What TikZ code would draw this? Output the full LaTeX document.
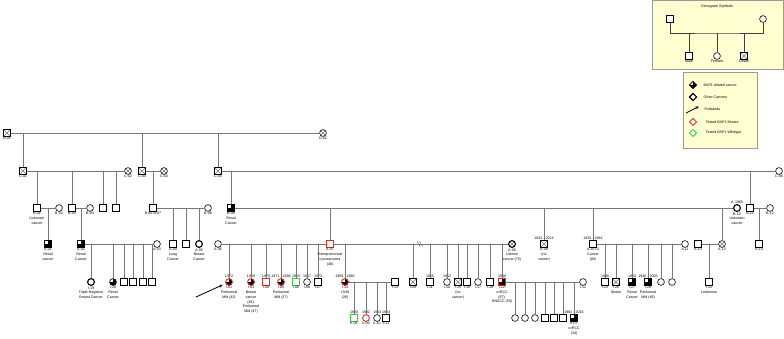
\documentclass[tikz,border=0pt]{standalone}
\usepackage{fontspec}
\setmainfont{Liberation Sans}
\usetikzlibrary{arrows.meta, shapes.geometric}
\definecolor{mutred}{HTML}{D9302C}
\definecolor{wildgreen}{HTML}{3CC83C}
\definecolor{linegray}{HTML}{777777}
\definecolor{legfill}{HTML}{FFFFD2}
\definecolor{legdraw}{HTML}{9A9A9A}
\newcommand\pedfont{\fontsize{3.6}{4.7}\selectfont}

\begin{document}
\begin{tikzpicture}[
			x=1pt, y=-1pt,
			male/.style={rectangle, draw, fill=white, minimum size=6.5pt, inner sep=0pt, line width=0.6pt},
			female/.style={circle, draw, fill=white, minimum size=6.8pt, inner sep=0pt, line width=0.6pt},
			gem/.style={diamond, draw, fill=white, minimum size=7.5pt, inner sep=0pt, line width=0.6pt},
			dead/.style={path picture={\draw[black!55, line width=0.4pt] (path picture bounding box.south west) -- (path picture bounding box.north east)
				(path picture bounding box.north west) -- (path picture bounding box.south east);}},
			bap/.style={fill=black, path picture={\fill[white] (path picture bounding box.north west) rectangle (path picture bounding box.center);}},
			othc/.style={line width=1.1pt},
			mut/.style={draw=mutred, line width=0.9pt},
			wild/.style={draw=wildgreen, line width=0.9pt},
			every label/.style={font=\pedfont, align=center, inner sep=0.4pt, text=black},
			rel/.style={draw=linegray, line width=0.8pt},
			legbox/.style={draw=legdraw, fill=legfill, line width=0.6pt, inner sep=0pt},
			legline/.style={draw=black!75, line width=0.7pt},
			legtxt/.style={font=\pedfont, anchor=west, inner sep=0.5pt},
			proband/.style={-{Stealth[length=3.5pt, width=3pt]}, line width=0.8pt, shorten >=3pt}
		]
			\useasboundingbox (0,0) rectangle (784,339);

			\node[legbox, minimum width=131pt, minimum height=69pt] (gbox) at (717.5,35) {};
			\node[font=\pedfont] (gtitle) at (717,7) {Genogram Symbols};
			\node[male] (Lm) at (670,19) {};
			\node[female] (Lf) at (763,19) {};
			\node[male, label=below:Male] (Lc1) at (689,56) {};
			\node[female, label=below:Female] (Lc2) at (717,56) {};
			\node[male, dead, label=below:Death] (Lc3) at (744,56) {};
			\coordinate (gbar) at (717,33);
			\draw[legline] (Lm) |- (gbar) -| (Lf);
			\draw[legline] (gbar -| Lc1) -- (Lc1) (gbar) -- (Lc2) (gbar -| Lc3) -- (Lc3);

			\node[legbox, minimum width=74pt, minimum height=76pt] (kbox) at (720,110) {};
			\node[gem, bap] (k1) at (693,85) {};
			\node[gem, othc] (k2) at (693,97) {};
			\node[gem, mut] (k4) at (693,122) {};
			\node[gem, wild] (k5) at (693,133) {};
			\node[legtxt] (t1) at (703,85) {BAP1 related cancer};
			\node[legtxt] (t2) at (703,97) {Other Cancers};
			\node[legtxt] (t3) at (704,109) {Probands};
			\node[legtxt] (t4) at (705,122) {Tested BAP1 Mutant};
			\node[legtxt] (t5) at (705,133) {Tested BAP1 Wildtype};
			\coordinate (ka) at (686,113);
			\coordinate (kb) at (699,106.5);
			\draw[proband, shorten >=0pt] (ka) -- (kb);

			\node[male, dead, label=below:D-01] (D01) at (7,133) {};
			\node[female, dead, label=below:D-02] (D02) at (323,133) {};

			\node[male, dead, label=below:C-01] (C01) at (23,171) {};
			\node[female, dead, label=below:C-02] (C02) at (128,171) {};
			\node[male, dead, label=below:C-03] (C03) at (142,171) {};
			\node[female, dead, label=below:C-04] (C04) at (164,171) {};
			\node[male, dead, label=below:C-05] (C05) at (218,171) {};
			\node[female, label=below:C-06] (C06) at (779,171) {};

			\node[male, othc, label=below:B-01\\Unknown\\cancer] (B01) at (37,208) {};
			\node[female, label=below:B-02] (B02) at (59,208) {};
			\node[male, label=below:B-03] (B03) at (72,208) {};
			\node[female, label=below:B-04] (B04) at (90,208) {};
			\node[male] (Bs1) at (103,208) {};
			\node[male] (Bs2) at (116,208) {};
			\node[male, label=below:B-05-B-07] (B05) at (153,208) {};
			\node[female, label=below:B-08] (B08) at (208,208) {};
			\node[male, bap, label=below:B-09\\Renal\\Cancer] (B09) at (231,208) {};
			\node[female, othc, label=above:d. 1965, label=below:B-10\\Unknown\\cancer] (B10) at (737,208) {};
			\node[male, label=below:B-11] (B11) at (750,208) {};
			\node[female, label=below:B-12] (B12) at (770,208) {};

			\node[male, bap, label=below:A-01\\Renal\\cancer] (A01) at (48,244) {};
			\node[male, bap, label=below:A-02\\Renal\\Cancer] (A02) at (81,244) {};
			\node[female, label=below:A-03] (A03) at (157,244) {};
			\node[male, othc, label=below:A-04\\Lung\\Cancer] (A04) at (173,244) {};
			\node[male] (As1) at (186,244) {};
			\node[female, othc, label=below:A-05\\Breast\\Cancer] (A05) at (199,244) {};
			\node[female, label=below:A-06] (A06) at (218,244) {};
			\node[male, mut, othc, label={below:{A-07\\Retroperitoneal\\Liposarcoma\\(46)}}] (A07) at (330,244) {};
			\node[female, dead, othc, label={below:{A-08\\Uterine\\cancer (75)}}] (A08) at (512,244) {};
			\node[male, dead, label=above:1932 - 2014, label={below:{A-09\\(no\\cancer)}}] (A09) at (544,244) {};
			\node[male, othc, label=above:1920 - 1982, label={below:{A-10 GI\\Cancer\\(85)}}] (A10) at (593,244) {};
			\node[female, label=below:A-11] (A11) at (685,244) {};
			\node[male, label=below:A-13] (A13) at (698,244) {};
			\node[female, dead, label=below:A-12] (A12) at (722,244) {};
			\node[male, label=below:A-14] (A14) at (759,244) {};

			\node[female, othc, label=below:I-19\\Triple-Negative\\Breast Cancer] (I19) at (91,282) {};
			\node[female, bap, label=below:I-20\\Renal\\Cancer] (I20) at (113,282) {};
			\node[male] (Is1) at (124,282) {};
			\node[male] (Is2) at (133,282) {};
			\node[male] (Is3) at (143,282) {};
			\node[male] (Is4) at (152,282) {};
			\node[female, mut, bap, label=above:1972, label={below:{I-01\\Peritoneal\\MM (43)}}] (I01) at (229,282) {};
			\node[female, mut, bap, label=above:1969, label={below:{I-03\\Breast\\cancer\\(46),\\Peritoneal\\MM (47)}}] (I03) at (251,282) {};
			\node[male, mut, label=above:1970, label=below:I-04] (I04) at (266,282) {};
			\node[female, mut, bap, label=above:1971 - 1998, label={below:{I-05\\Peritoneal\\MM (27)}}] (I05) at (281,282) {};
			\node[male, wild, label=above:1965, label=below:I-06] (I06) at (296,282) {};
			\node[female, label=above:1967, label=below:I-08] (I08) at (307,282) {};
			\node[male, label=above:1973, label=below:I-07] (I07) at (318,282) {};
			\node[female, mut, bap, label=above:1959 - 1985, label={below:{I-14\\UVM\\(26)}}] (I14) at (345,282) {};
			\node[male, label=below:I-13] (I13) at (395,282) {};
			\node[male, dead, label=below:I-09] (I09) at (413,282) {};
			\node[male, label=above:1955, label=below:I-11] (I11) at (430,282) {};
			\node[female, label=above:1952, label=below:I-10] (I10) at (447,282) {};
			\node[male, dead, label={below:{I-15\\(no\\cancer)}}] (I15) at (458,282) {};
			\node[male, label=below:I-16] (I16) at (467,282) {};
			\node[female, label=below:I-17] (I17) at (478,282) {};
			\node[male, label=below:I-18] (I18) at (490,282) {};
			\node[male, mut, bap, label=above:1946, label={below:{I-22\\ccRCC\\(67),\\HNSCC (50)}}] (I22) at (502,282) {};
			\node[female, label=below:I-12] (I12) at (583,282) {};
			\node[male, label=above:1946, label=below:I-25] (I25) at (605,282) {};
			\node[male, dead, label=below:I-26\\Stroke] (I26) at (616,282) {};
			\node[male, bap, label=above:1950, label=below:I-27\\Renal\\Cancer] (I27) at (632,282) {};
			\node[male, bap, label=above:1940 - 2005, label={below:{I-28\\Peritoneal\\MM (46)}}] (I28) at (648,282) {};
			\node[female] (Ic1) at (661,282) {};
			\node[female] (Ic2) at (672,282) {};
			\node[male, othc, label=below:I-31\\Leukemia] (I31) at (709,282) {};

			\node[male, wild, label=above:1980, label=below:II-08] (II08) at (354,318) {};
			\node[female, mut, label=above:1982, label=below:II-09] (II09) at (366,318) {};
			\node[female, label=above:1983, label=below:II-10] (II10) at (377,318) {};
			\node[male, label=above:1984, label=below:II-11] (II11) at (386,318) {};
			\node[female] (IIc1) at (515,318) {};
			\node[female] (IIc2) at (525,318) {};
			\node[female] (IIc3) at (535,318) {};
			\node[male] (IIc4) at (545,318) {};
			\node[male] (IIc5) at (554,318) {};
			\node[male] (IIc6) at (563,318) {};
			\node[male, bap, label=above:1982 - 2016, label={below:{II-07\\ccRCC\\(34)}}] (II07) at (574,318) {};

			\draw[rel] (D01) -- (D02) (C01) -- (C02) (C03) -- (C04) (C05) -- (C06)
				(B01) -- (B02) (B03) -- (B04) (B05) -- (B08) (B09) -- (B10) (B11) -- (B12)
				(A02) -- (A03) (A06) -- (A07) (A07) -- (A08) (A10) -- (A11) (A13) -- (A12)
				(I14) -- (I13) (I22) -- (I12);

			\draw[rel] (C01 |- D01) -- (C01) (C03 |- D01) -- (C03) (C05 |- D01) -- (C05);
			\draw[rel] (B01 |- C01) -- (B01) (B03 |- C01) -- (B03) (Bs1 |- C01) -- (Bs1) (Bs2 |- C01) -- (Bs2);
			\draw[rel] (B05 |- C03) -- (B05) (B09 |- C05) -- (B09) (B11 |- C05) -- (B11);
			\draw[rel] (A01 |- B01) -- (A01) (A02 |- B03) -- (A02);
			\draw[rel] (A04 |- B05) -- (A04) (As1 |- B05) -- (As1) (A05 |- B05) -- (A05);
			\draw[rel] (A07 |- B09) -- (A07) (A09 |- B09) -- (A09) (A10 |- B09) -- (A10) (A12 |- B09) -- (A12);
			\draw[rel] (A14 |- B11) -- (A14);
			\draw[rel] (I19 |- A02) -- (I19) (I20 |- A02) -- (I20) (Is1 |- A02) -- (Is1)
				(Is2 |- A02) -- (Is2) (Is3 |- A02) -- (Is3) (Is4 |- A02) -- (Is4);
			\draw[rel] (I01 |- A06) -- (I01) (I03 |- A06) -- (I03) (I04 |- A06) -- (I04) (I05 |- A06) -- (I05)
				(I06 |- A06) -- (I06) (I08 |- A06) -- (I08) (I07 |- A06) -- (I07);
			\draw[rel] (I14 |- A07) -- (I14) (I09 |- A07) -- (I09) (I11 |- A07) -- (I11) (I10 |- A07) -- (I10)
				(I15 |- A07) -- (I15) (I16 |- A07) -- (I16) (I17 |- A07) -- (I17) (I18 |- A07) -- (I18) (I22 |- A07) -- (I22);
			\draw[rel] (I25 |- A10) -- (I25) (I26 |- A10) -- (I26) (I27 |- A10) -- (I27) (I28 |- A10) -- (I28)
				(Ic1 |- A10) -- (Ic1) (Ic2 |- A10) -- (Ic2);
			\draw[rel] (I31 |- A13) -- (I31);
			\draw[rel] (II08 |- I14) -- (II08) (II09 |- I14) -- (II09) (II10 |- I14) -- (II10) (II11 |- I14) -- (II11);
			\draw[rel] (IIc1 |- I22) -- (IIc1) (IIc2 |- I22) -- (IIc2) (IIc3 |- I22) -- (IIc3) (IIc4 |- I22) -- (IIc4)
				(IIc5 |- I22) -- (IIc5) (IIc6 |- I22) -- (IIc6) (II07 |- I22) -- (II07);

			\coordinate (sep) at (420,244);
			\draw[rel, line width=0.6pt] (sep) ++(-3,-2.5) -- ++(3,5) (sep) ++(-0.5,-2.5) -- ++(3,5);

			\coordinate (prb) at (196,297);
			\draw[proband] (prb) -- (I01);
		\end{tikzpicture}
\end{document}
